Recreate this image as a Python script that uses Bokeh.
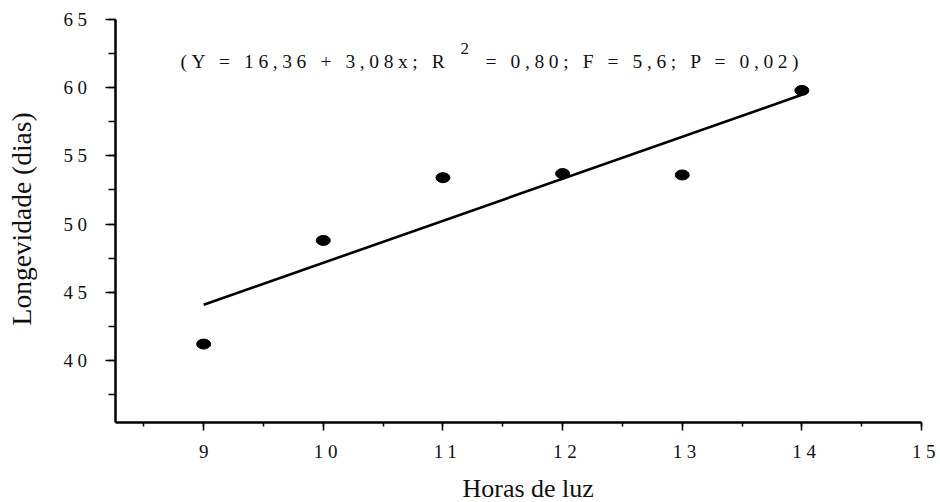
from bokeh.plotting import figure
from bokeh.models import Range1d, SingleIntervalTicker, Label, InlineStyleSheet
from bokeh.layouts import row, column
from bokeh.embed import file_html
from bokeh.resources import INLINE

# ---- data ----
hours = [9, 10, 11, 12, 13, 14]
longevity = [41.2, 48.8, 53.4, 53.7, 53.6, 59.8]
fit_x = [9, 14]
fit_y = [44.08, 59.48]
eq_part1 = "(Y = 16,36 + 3,08x; R"
eq_sup = "2"
eq_part2 = "= 0,80; F = 5,6; P = 0,02)"
x_title = "Horas de luz"
y_title = "Longevidade (dias)"

SERIF = "Liberation Serif"
INK = "#111111"

# ---- main plot ----
p = figure(width=892, height=463, output_backend="svg", toolbar_location=None,
           x_range=Range1d(8.263, 15.0), y_range=Range1d(35.45, 65.0),
           min_border_left=67, min_border_right=19, min_border_top=19,
           min_border_bottom=41)
p.outline_line_color = None
p.background_fill_color = "white"
p.border_fill_color = "white"
p.xgrid.visible = False
p.ygrid.visible = False
p.stylesheets = [InlineStyleSheet(css=":host { letter-spacing: 4.6px; }")]

p.xaxis.ticker = SingleIntervalTicker(interval=1, num_minor_ticks=2)
p.yaxis.ticker = SingleIntervalTicker(interval=5, num_minor_ticks=2)
for ax in (p.xaxis, p.yaxis):
    ax.axis_line_width = 2.5
    ax.axis_line_color = "black"
    ax.major_tick_line_color = "black"
    ax.minor_tick_line_color = "black"
    ax.major_tick_line_width = 1.5
    ax.minor_tick_line_width = 1.5
    ax.major_tick_in = 0
    ax.minor_tick_in = 0
    ax.major_label_text_font = SERIF
    ax.major_label_text_font_size = "19px"
    ax.major_label_text_color = INK
p.xaxis.major_tick_out = 8
p.xaxis.minor_tick_out = 4
p.yaxis.major_tick_out = 10
p.yaxis.minor_tick_out = 7
p.xaxis.major_label_standoff = 14
p.yaxis.major_label_standoff = 23

p.line(fit_x, fit_y, line_color="black", line_width=2.6)
p.ellipse(x=hours, y=longevity, width=14, height=10,
          width_units="screen", height_units="screen",
          fill_color="black", line_color="black")

p.add_layout(Label(x=8.806, y=61.92, text=eq_part1, text_font=SERIF,
                   text_font_size="19.5px", text_color=INK,
                   text_align="left", text_baseline="alphabetic"))
p.add_layout(Label(x=11.147, y=62.9, text=eq_sup, text_font=SERIF,
                   text_font_size="17px", text_color=INK,
                   text_align="left", text_baseline="alphabetic"))
p.add_layout(Label(x=11.356, y=61.92, text=eq_part2, text_font=SERIF,
                   text_font_size="19.5px", text_color=INK,
                   text_align="left", text_baseline="alphabetic"))

# ---- axis titles (normal letter spacing) ----
yfig = figure(width=48, height=502, output_backend="svg", toolbar_location=None,
              x_range=Range1d(0, 1), y_range=Range1d(0, 1),
              x_axis_type=None, y_axis_type=None, min_border=0)
yfig.outline_line_color = None
yfig.xgrid.visible = False
yfig.ygrid.visible = False
yfig.add_layout(Label(x=0.44, y=0.565, text=y_title, angle=1.5707963,
                      text_font=SERIF, text_font_size="27.5px", text_color=INK,
                      text_align="center", text_baseline="middle"))

xfig = figure(width=892, height=39, output_backend="svg", toolbar_location=None,
              x_range=Range1d(0, 1), y_range=Range1d(0, 1),
              x_axis_type=None, y_axis_type=None, min_border=0)
xfig.outline_line_color = None
xfig.xgrid.visible = False
xfig.ygrid.visible = False
xfig.add_layout(Label(x=0.512, y=0.365, text=x_title,
                      text_font=SERIF, text_font_size="26px", text_color=INK,
                      text_align="center", text_baseline="alphabetic"))

layout = row(yfig, column(p, xfig))
open("out.html", "w").write(file_html(layout, INLINE))
